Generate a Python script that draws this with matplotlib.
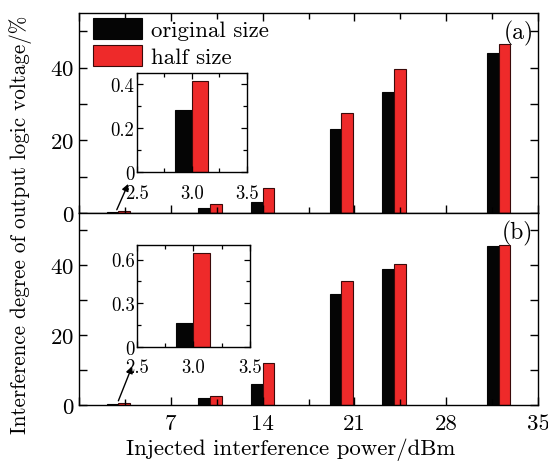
import matplotlib
matplotlib.use("Agg")
from matplotlib import pyplot as plt
from matplotlib.ticker import MultipleLocator

plt.rcParams["font.family"] = ["cmr10", "DejaVu Serif"]
plt.rcParams["mathtext.fontset"] = "cm"
plt.rcParams["axes.formatter.use_mathtext"] = True
plt.rcParams["axes.linewidth"] = 1.0

# injected power groups (dBm) and interference degree (%)
power = [3, 10, 14, 20, 24, 32]
orig_a = [0.28, 1.3, 3.1, 23.1, 33.4, 44.1]
half_a = [0.415, 2.4, 6.9, 27.5, 39.7, 46.4]
orig_b = [0.16, 2.0, 5.9, 31.9, 39.0, 45.6]
half_b = [0.645, 2.6, 11.9, 35.5, 40.3, 45.9]

labels = ["original size", "half size"]
black = "#050505"
red = "#ee2a2a"
width = 0.9
inset_width = 0.15

fig = plt.figure(figsize=(5.48, 4.64), dpi=100)
ax_a = fig.add_axes([0.1442, 0.5388, 0.8376, 0.431])
ax_b = fig.add_axes([0.1442, 0.125, 0.8376, 0.4138], sharex=ax_a)


def style_main(ax):
    ax.set_xlim(0, 35)
    ax.set_ylim(0, 55)
    ax.xaxis.set_major_locator(MultipleLocator(7))
    ax.xaxis.set_minor_locator(MultipleLocator(3.5))
    ax.yaxis.set_major_locator(MultipleLocator(20))
    ax.yaxis.set_minor_locator(MultipleLocator(10))
    ax.xaxis.set_major_formatter(lambda v, p: "" if v == 0 else f"{v:.0f}")
    ax.tick_params(which="both", direction="in", top=True, right=True,
                   labelsize=16.5, width=1.0)
    ax.tick_params(which="major", length=6)
    ax.tick_params(which="minor", length=6)
    ax.tick_params(axis="x", which="minor", length=4)
    ax.tick_params(axis="x", pad=6)


def style_inset(ax, ymax, ystep):
    ax.set_xlim(2.5, 3.5)
    ax.set_ylim(0, ymax)
    ax.xaxis.set_major_locator(MultipleLocator(0.5))
    ax.xaxis.set_minor_locator(MultipleLocator(0.25))
    ax.yaxis.set_major_locator(MultipleLocator(ystep))
    ax.yaxis.set_minor_locator(MultipleLocator(ystep / 2))
    ax.tick_params(which="both", direction="in", top=True, right=True,
                   labelsize=13.5, width=0.9, pad=1.5)
    ax.tick_params(axis="x", pad=8.5)
    ax.tick_params(which="major", length=4)
    ax.tick_params(which="minor", length=3)
    ax.xaxis.set_major_formatter(lambda v, p: f"{v:.1f}")
    ax.yaxis.set_major_formatter(
        lambda v, p: "0" if v == 0 else f"{v:.1f}")


for ax, orig, half, tag in [(ax_a, orig_a, half_a, "(a)"),
                            (ax_b, orig_b, half_b, "(b)")]:
    ax.bar([p - width / 2 for p in power], orig, width=width, color=black,
           edgecolor=black, linewidth=0.8, label=labels[0])
    ax.bar([p + width / 2 for p in power], half, width=width, color=red,
           edgecolor="#3a0a0a", linewidth=0.8, label=labels[1])
    style_main(ax)
    ax.text(0.99, 0.965, tag, transform=ax.transAxes, ha="right", va="top",
            fontsize=17)

ax_a.tick_params(labelbottom=False)
ax_b.tick_params(which="both", top=False)
ax_a.legend(loc="upper left", bbox_to_anchor=(0.03, 0.975), frameon=False,
            fontsize=16.5, handlelength=2.14, handleheight=1.0,
            handletextpad=0.4, labelspacing=0.22, borderaxespad=0,
            borderpad=0)

# insets with the first group magnified
in_a = fig.add_axes([0.2494, 0.6272, 0.2007, 0.2134])
in_a.bar([power[0] - inset_width / 2], [orig_a[0]], width=inset_width,
         color=black, edgecolor=black, linewidth=0.8)
in_a.bar([power[0] + inset_width / 2], [half_a[0]], width=inset_width,
         color=red, edgecolor="#3a0a0a", linewidth=0.8)
style_inset(in_a, 0.45, 0.2)

in_b = fig.add_axes([0.2494, 0.2507, 0.2068, 0.2191])
in_b.bar([power[0] - inset_width / 2], [orig_b[0]], width=inset_width,
         color=black, edgecolor=black, linewidth=0.8)
in_b.bar([power[0] + inset_width / 2], [half_b[0]], width=inset_width,
         color=red, edgecolor="#3a0a0a", linewidth=0.8)
style_inset(in_b, 0.7, 0.3)

# arrows from the tiny bars up to the insets
arrow = dict(arrowstyle="-|>", color="black", lw=1.0, mutation_scale=10,
             shrinkA=0, shrinkB=0)
ax_a.annotate("", xy=(3.75, 8.0), xytext=(2.88, 0.9), arrowprops=arrow)
ax_b.annotate("", xy=(4.05, 11.1), xytext=(3.0, 1.2), arrowprops=arrow)

fig.text(0.038, 0.515, "Interference degree of output logic voltage/%",
         rotation=90, ha="center", va="center", fontsize=15.2)
fig.text(0.53, 0.03, "Injected interference power/dBm", ha="center",
         va="center", fontsize=16.4)

fig.savefig("out.png", dpi=100)
